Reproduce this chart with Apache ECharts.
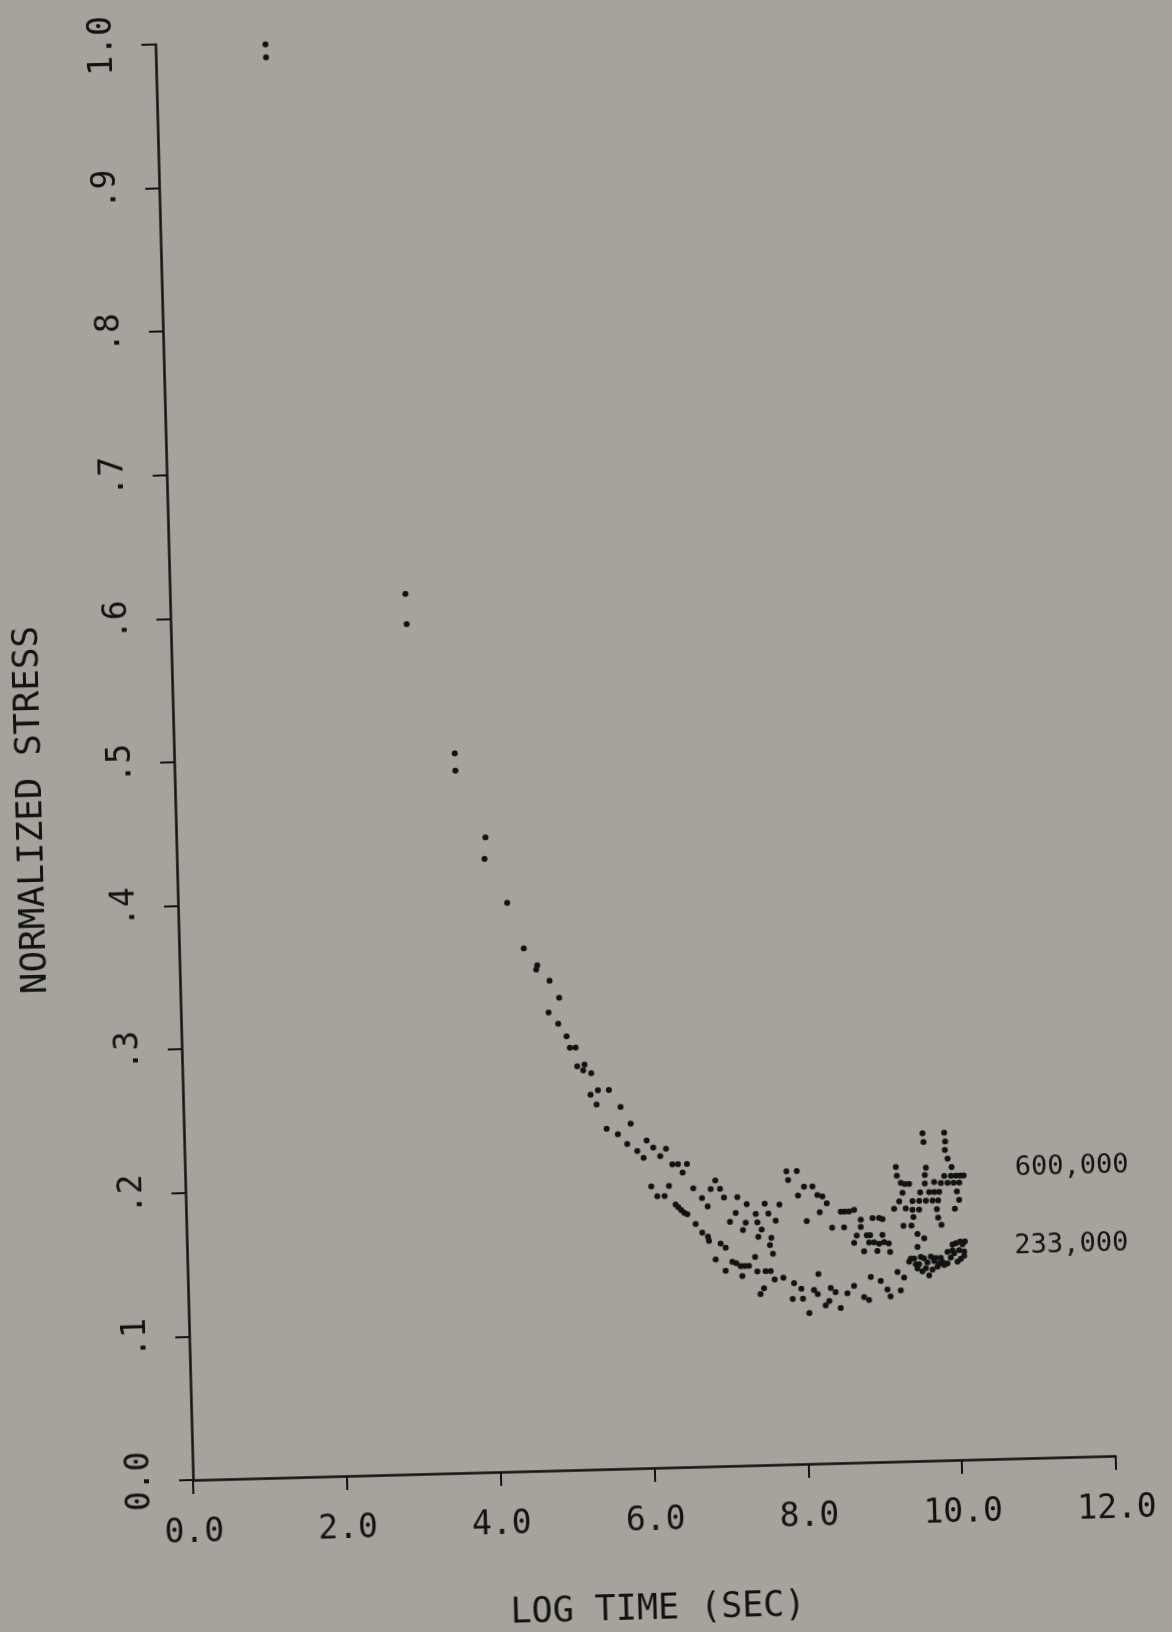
<!DOCTYPE html>
<html><head><meta charset="utf-8">
<script src="https://cdn.jsdelivr.net/npm/echarts@6/dist/echarts.min.js"></script>
<style>
html,body{margin:0;padding:0;width:1172px;height:1632px;overflow:hidden;background:#a6a39c;}
#chart{position:absolute;left:0;top:0;width:1172px;height:1700px;transform-origin:193px 1480px;transform:rotate(-1.5deg);}
</style></head><body><div id="chart"></div>
<script>
const xTickLabels = ['0.0','2.0','4.0','6.0','8.0','10.0','12.0'];
const yTickLabels = ['0.0','.1','.2','.3','.4','.5','.6','.7','.8','.9','1.0'];
const seriesNames = ['600,000','233,000'];

const time600 = [1.430,3.062,3.649,4.019,4.280,4.480,4.649,4.804,4.923,4.902,5.045,5.119,5.230,5.314,5.395,5.538,5.684,5.809,6.011,6.095,6.260,6.183,6.337,6.410,6.527,6.468,6.890,6.601,6.827,6.948,6.711,6.997,7.171,6.782,7.290,7.144,7.067,7.271,7.524,7.715,7.404,7.569,7.423,7.661,7.233,7.476,7.430,7.599,7.579,7.615,7.381,7.817,7.952,7.836,8.041,8.150,7.960,8.212,8.277,8.331,8.237,8.510,8.619,8.684,8.065,8.392,8.548,8.768,8.920,9.006,8.765,8.710,8.884,9.044,8.673,8.868,8.998,9.124,8.800,8.973,9.138,9.599,9.609,9.881,9.890,9.884,9.916,9.241,9.631,9.965,9.251,9.615,9.867,10.019,10.119,9.352,9.612,9.734,9.908,10.060,9.319,9.549,9.666,9.796,10.026,9.273,9.446,9.620,9.780,10.053,9.205,9.356,9.530,9.760,9.994,9.453,9.774,9.320,9.424,9.815,9.500,9.586,9.496,
  9.821,9.986,9.533,9.707,9.443,9.954,10.076,9.300,9.408,9.732,8.562,8.933,9.063,8.840,9.050];
const stress600 = [0.998,0.613,0.501,0.442,0.396,0.364,0.352,0.341,0.329,0.311,0.294,0.294,0.282,0.276,0.264,0.264,0.252,0.240,0.228,0.223,0.222,0.217,0.211,0.211,0.211,0.205,0.199,0.194,0.193,0.193,0.187,0.187,0.187,0.181,0.182,0.176,0.170,0.169,0.182,0.181,0.175,0.175,0.169,0.170,0.164,0.164,0.159,0.158,0.153,0.147,0.145,0.204,0.204,0.198,0.193,0.193,0.187,0.187,0.186,0.181,0.175,0.175,0.175,0.176,0.169,0.164,0.164,0.169,0.170,0.170,0.164,0.158,0.158,0.158,0.153,0.153,0.152,0.152,0.147,0.147,0.146,0.228,0.222,0.228,0.222,0.216,0.210,0.205,0.204,0.204,0.199,0.199,0.198,0.198,0.198,0.193,0.193,0.194,0.193,0.193,0.187,0.187,0.187,0.187,0.187,0.181,0.181,0.181,0.181,0.181,0.176,0.176,0.175,0.175,0.175,0.170,0.169,0.164,0.164,0.164,0.158,0.155,0.149,
  0.193,0.193,0.181,0.181,0.175,0.198,0.198,0.194,0.193,0.187,0.175,0.153,0.153,0.158,0.169];

const time233 = [1.433,3.068,3.652,4.000,4.634,4.780,5.006,5.135,5.211,5.298,5.373,5.495,5.640,5.758,5.886,5.966,6.056,6.286,6.131,6.226,6.366,6.438,6.515,6.620,6.703,6.776,6.787,6.938,7.002,6.868,6.994,7.084,7.191,7.299,7.406,7.514,7.579,7.209,7.487,7.440,7.628,7.742,7.879,7.972,7.856,7.990,8.068,8.136,8.183,8.198,8.354,8.416,8.283,8.331,8.477,8.569,8.658,8.785,8.848,8.878,9.006,9.091,9.129,9.227,9.311,9.264,9.405,9.468,9.535,9.597,9.638,9.666,9.749,9.795,9.880,9.970,10.055,10.081,9.995,9.884,9.511,9.575,9.708,9.838,
  9.382,9.448,9.552,9.683,9.730,9.816,9.925,9.950,10.011,10.036,10.101,10.099,10.052,10.113,9.951,9.488,9.620,9.772,7.135,7.243,6.400,6.476];
const stress233 = [0.989,0.592,0.489,0.427,0.349,0.319,0.302,0.281,0.278,0.261,0.254,0.237,0.233,0.226,0.221,0.216,0.196,0.196,0.189,0.189,0.183,0.179,0.176,0.169,0.163,0.160,0.157,0.155,0.152,0.144,0.136,0.142,0.139,0.139,0.135,0.135,0.135,0.132,0.123,0.119,0.129,0.130,0.126,0.122,0.115,0.115,0.105,0.121,0.118,0.132,0.122,0.119,0.110,0.113,0.108,0.118,0.123,0.115,0.113,0.129,0.126,0.120,0.115,0.132,0.128,0.119,0.141,0.137,0.142,0.134,0.129,0.142,0.135,0.141,0.137,0.144,0.140,0.150,0.151,0.145,0.137,0.141,0.139,0.136,
  0.139,0.141,0.132,0.133,0.141,0.138,0.141,0.146,0.138,0.146,0.145,0.142,0.152,0.152,0.150,0.134,0.138,0.137,0.141,0.139,0.181,0.177];

const INK = '#121212';
const FONT = '"DejaVu Sans Mono", "Liberation Mono", monospace';
const curveLabelAt = [[10.78, 0.2023], [10.75, 0.1473]];

function zip(xs, ys) { return xs.map((x, i) => [x, ys[i]]); }

function dotSeries(name, xs, ys, at) {
  return {
    name: name, type: 'scatter', data: zip(xs, ys),
    symbol: 'circle', symbolSize: 6, silent: true,
    itemStyle: { color: INK, opacity: 1 },
    markPoint: {
      silent: true, animation: false,
      symbol: 'circle', symbolSize: 1,
      itemStyle: { color: 'rgba(0,0,0,0)' },
      label: { show: true, position: 'right', distance: 0, formatter: name,
               fontFamily: FONT, fontSize: 27, color: INK },
      data: [{ coord: at }]
    }
  };
}

const chart = echarts.init(document.getElementById('chart'), null, { renderer: 'canvas' });
chart.setOption({
  animation: false,
  backgroundColor: 'transparent',
  grid: { left: 193, top: 44, width: 923, height: 1436, outerBoundsMode: 'none', containLabel: false },
  xAxis: {
    type: 'value', min: 0, max: 12, interval: 2,
    axisLine: { show: true, onZero: false, lineStyle: { color: INK, width: 2.5 } },
    axisTick: { show: true, inside: false, length: 14, lineStyle: { color: INK, width: 2 } },
    splitLine: { show: false },
    axisLabel: { margin: 37, fontFamily: FONT, fontSize: 33, color: INK,
                 formatter: v => xTickLabels[Math.round(v / 2)] },
    name: 'LOG TIME (SEC)', nameLocation: 'middle', nameGap: 124,
    nameTextStyle: { fontFamily: FONT, fontSize: 35, color: INK }
  },
  yAxis: {
    type: 'value', min: 0, max: 1, interval: 0.1,
    axisLine: { show: true, onZero: false, lineStyle: { color: INK, width: 2.5 } },
    axisTick: { show: true, inside: false, length: 14, lineStyle: { color: INK, width: 2 } },
    splitLine: { show: false },
    axisLabel: { margin: 36, rotate: 90, fontFamily: FONT, fontSize: 33, color: INK,
                 formatter: v => yTickLabels[Math.round(v * 10)] }
  },
  graphic: [{
    type: 'text', x: 50, y: 806, rotation: Math.PI / 2, silent: true,
    style: { text: 'NORMALIZED STRESS', fontFamily: FONT, fontSize: 36, fill: INK,
             align: 'center', verticalAlign: 'middle' }
  }],
  series: [
    dotSeries(seriesNames[0], time600, stress600, curveLabelAt[0]),
    dotSeries(seriesNames[1], time233, stress233, curveLabelAt[1])
  ]
});
</script></body></html>
